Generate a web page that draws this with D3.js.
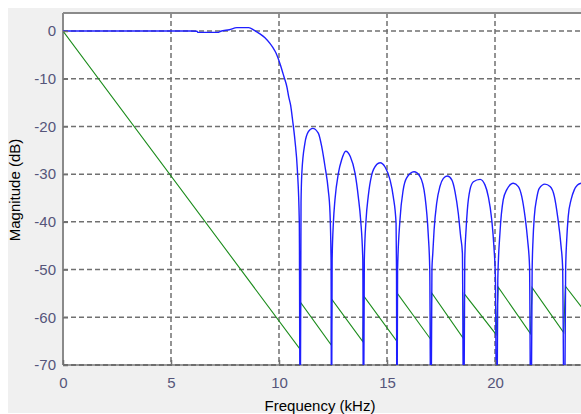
<!DOCTYPE html>
<html>
<head>
<meta charset="utf-8">
<script src="https://cdn.jsdelivr.net/npm/d3@7"></script>
<style>
  html, body { margin: 0; padding: 0; background: #ffffff; }
  svg { display: block; }
</style>
</head>
<body>
<svg id="chart" width="581" height="414"></svg>
<script>
// ---------------- data ----------------
const xTicks = [0, 5, 10, 15, 20];
const yTicks = [0, -10, -20, -30, -40, -50, -60, -70];
const xLabel = "Frequency (kHz)";
const yLabel = "Magnitude (dB)";

// Blue series: filter magnitude response (kHz, dB); nulls go below the axis
const blueFreq = [
  0, 5.9, 6.2, 6.25, 7.2, 7.3, 7.7, 8.05, 8.6, 8.84, 8.98, 9.12, 9.35, 9.58, 9.72, 9.85,
  10.05, 10.23, 10.37, 10.45, 10.54, 10.63, 10.74, 10.85, 10.94, 10.98,
  11.02, 11.06, 11.2, 11.36, 11.56, 11.82, 11.98, 12.13, 12.28, 12.36, 12.41, 12.43,
  12.46, 12.52, 12.59, 12.75, 12.9, 13.09, 13.3, 13.52, 13.67, 13.78, 13.88, 13.91,
  13.95, 14.03, 14.13, 14.29, 14.52, 14.68, 14.91, 15.14, 15.29, 15.42, 15.44, 15.46,
  15.49, 15.6, 15.75, 15.91, 16.25, 16.53, 16.76, 16.91, 16.98, 17.03,
  17.08, 17.12, 17.18, 17.3, 17.45, 17.61, 17.79, 18.0, 18.15, 18.3, 18.41, 18.49, 18.55,
  18.6, 18.66, 18.72, 18.84, 19.0, 19.31, 19.54, 19.69, 19.85, 19.95, 20.02, 20.08,
  20.13, 20.23, 20.38, 20.54, 20.85, 21.08, 21.24, 21.39, 21.51, 21.6, 21.66,
  21.72, 21.76, 21.82, 21.93, 22.05, 22.31, 22.55, 22.75, 22.9, 23.06, 23.13, 23.21,
  23.27, 23.32, 23.39, 23.52, 23.67, 23.82, 24.0
];
const blueMag = [
  0, 0, -0.05, -0.28, -0.28, -0.05, 0.27, 0.7, 0.7, 0.2, -0.2, -0.6, -1.4, -2.6, -3.5, -4.5,
  -6.9, -9.6, -11.8, -13.8, -15.6, -18.7, -23, -29.1, -40, -90,
  -36, -29.6, -23.5, -21.1, -20.4, -21.4, -24.3, -28.4, -33.3, -38, -48, -90,
  -48, -40, -35.4, -29.8, -27, -25.2, -26.3, -29.8, -34.7, -39.6, -48, -90,
  -48, -39.6, -34.7, -30.2, -28.0, -27.6, -28.5, -31.2, -34.7, -40.3, -50, -90,
  -50, -39.6, -33.3, -30.8, -29.5, -30.5, -34.7, -42.7, -50, -90,
  -50, -46.6, -41.7, -36.1, -32.6, -30.9, -30.4, -31.2, -33.7, -38.2, -43.1, -46.5, -90,
  -48, -41.7, -37.5, -33.3, -31.6, -31.1, -32.3, -34.7, -39.6, -45.2, -52, -90,
  -52, -42.3, -35.4, -33.3, -31.9, -32.6, -34.7, -38.9, -43.8, -49.4, -90,
  -50, -43.8, -38.9, -35.1, -33, -32.1, -32.6, -34.7, -38.9, -45.2, -49.4, -90,
  -50, -43.8, -38.9, -35.4, -33.3, -32.3, -31.9
];

// Green series: straight roll-off then sawtooth between the nulls (kHz, dB)
const greenFreq = [
  0, 10.98,
  11.0, 12.42, 12.44, 13.88, 13.92, 15.45, 15.48, 17.02,
  17.07, 18.53, 18.58, 20.05, 20.15, 21.64, 21.72, 23.18, 23.26, 24.0
];
const greenMag = [
  0, -66.7,
  -56.9, -65.8, -56.2, -65.1, -55.5, -65.0, -55.0, -64.6,
  -54.9, -64.4, -55.1, -63.6, -53.7, -63.4, -53.8, -63.2, -53.5, -57.8
];

// ---------------- layout ----------------
const W = 581, H = 414;
const M = { left: 63, top: 13, right: 581.4, bottom: 365 };
const xDomain = [0, 24];
const yDomain = [-70, 3.77];

const svg = d3.select("#chart");
const font = "'Liberation Sans', Arial, sans-serif";

// figure background
svg.append("rect").attr("x", 0).attr("y", 0).attr("width", W).attr("height", H).attr("fill", "#ffffff");
svg.append("rect").attr("x", 8).attr("y", 8).attr("width", W - 8).attr("height", H - 9).attr("fill", "#f0f0f0");

const x = d3.scaleLinear().domain(xDomain).range([M.left, M.right]);
const y = d3.scaleLinear().domain(yDomain).range([M.bottom, M.top]);

// plot area
svg.append("rect")
  .attr("x", M.left).attr("y", M.top)
  .attr("width", M.right - M.left).attr("height", M.bottom - M.top)
  .attr("fill", "#ffffff");

svg.append("clipPath").attr("id", "clip")
  .append("rect")
  .attr("x", M.left).attr("y", M.top)
  .attr("width", M.right - M.left).attr("height", M.bottom - M.top);

// grid
const grid = svg.append("g").attr("stroke", "#707070").attr("stroke-width", 1.5)
  .attr("stroke-dasharray", "5,3").attr("fill", "none");
xTicks.filter(d => d > 0).forEach(d => {
  grid.append("line").attr("x1", x(d)).attr("x2", x(d)).attr("y1", M.top).attr("y2", M.bottom);
});
yTicks.forEach(d => {
  grid.append("line").attr("x1", M.left).attr("x2", M.right).attr("y1", y(d)).attr("y2", y(d));
});

// box
svg.append("line").attr("x1", M.left).attr("x2", M.right).attr("y1", M.top).attr("y2", M.top)
  .attr("stroke", "#8a8a8a").attr("stroke-width", 2);
svg.append("line").attr("x1", M.left).attr("x2", M.left).attr("y1", M.top).attr("y2", M.bottom)
  .attr("stroke", "#8a8a8a").attr("stroke-width", 2);
svg.append("line").attr("x1", M.left).attr("x2", M.right).attr("y1", M.bottom).attr("y2", M.bottom)
  .attr("stroke", "#9a9a9a").attr("stroke-width", 2);
svg.append("line").attr("x1", M.left).attr("x2", M.right).attr("y1", M.bottom).attr("y2", M.bottom)
  .attr("stroke", "#606060").attr("stroke-width", 1.5).attr("stroke-dasharray", "5,3");

// lines
const plot = svg.append("g").attr("clip-path", "url(#clip)");
const greenPts = greenFreq.map((f, i) => [f, greenMag[i]]);
const bluePts = blueFreq.map((f, i) => [f, blueMag[i]]);

plot.append("path")
  .datum(greenPts)
  .attr("fill", "none").attr("stroke", "#1c8c1c").attr("stroke-width", 1.1)
  .attr("d", d3.line().x(d => x(d[0])).y(d => y(d[1])));

plot.append("path")
  .datum(bluePts)
  .attr("fill", "none").attr("stroke", "#1f1fff").attr("stroke-width", 1.4)
  .attr("stroke-linejoin", "round")
  .attr("d", d3.line().x(d => x(d[0])).y(d => y(d[1])).curve(d3.curveMonotoneX));

// axes
const fmt = d => String(d);
const xAxis = svg.append("g").attr("transform", `translate(0,${M.bottom})`)
  .call(d3.axisBottom(x).tickValues(xTicks).tickFormat(fmt).tickSizeInner(-5).tickSizeOuter(0).tickPadding(12));
const yAxis = svg.append("g").attr("transform", `translate(${M.left},0)`)
  .call(d3.axisLeft(y).tickValues(yTicks).tickFormat(fmt).tickSizeInner(-5).tickSizeOuter(0).tickPadding(7));
[xAxis, yAxis].forEach(a => {
  a.select(".domain").remove();
  a.selectAll(".tick line").attr("stroke", "#707070").attr("stroke-width", 1.5);
  a.selectAll(".tick text").attr("fill", "#55557a").style("font-family", font).style("font-size", "15px");
});

// axis labels
svg.append("text")
  .attr("x", 320).attr("y", 411)
  .attr("text-anchor", "middle")
  .style("font-family", font).style("font-size", "15px").attr("fill", "#000")
  .text(xLabel);
svg.append("text")
  .attr("transform", `translate(20,190) rotate(-90)`)
  .attr("text-anchor", "middle")
  .style("font-family", font).style("font-size", "15px").attr("fill", "#000")
  .text(yLabel);
</script>
</body>
</html>
